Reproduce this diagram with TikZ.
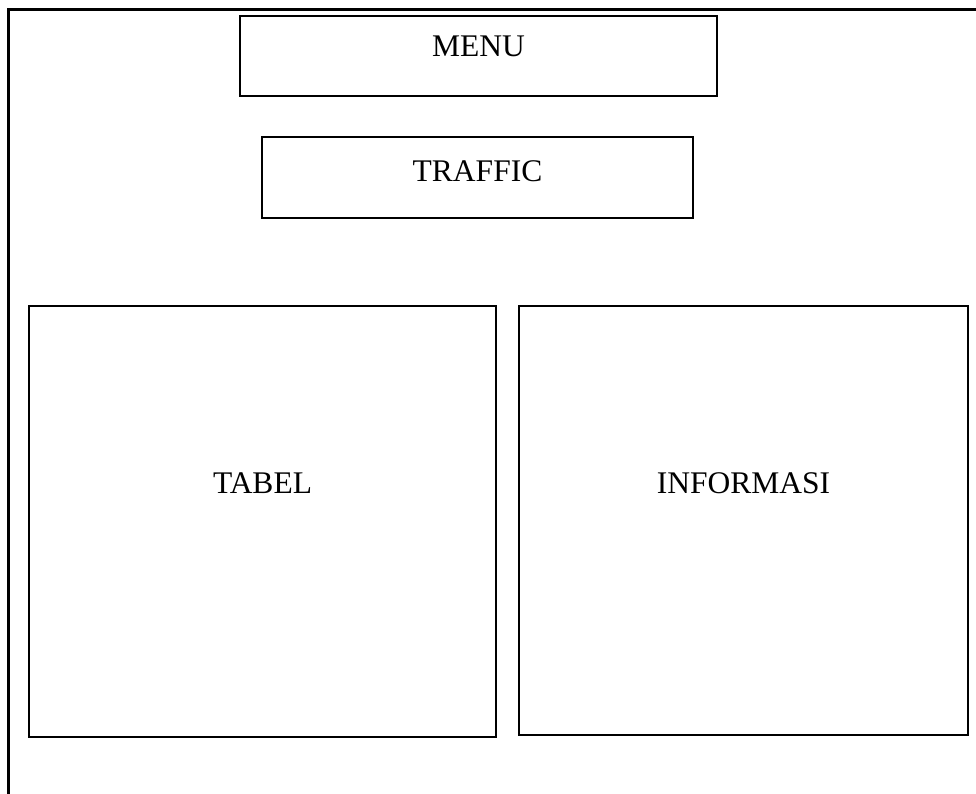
\documentclass[tikz,border=0pt]{standalone}
\usepackage{fontspec}
\setmainfont{Liberation Serif}
\begin{document}
\begin{tikzpicture}[x=1pt,y=-1pt,
  frame/.style={line width=3pt},
  box/.style={draw,line width=2.8pt,inner sep=0pt},
  lbl/.style={font=\fontsize{31.5}{38}\selectfont,inner sep=0pt,anchor=base}]
\useasboundingbox (0,0) rectangle (976,794);
\fill[white] (0,0) rectangle (976,794);
% outer frame (cropped at right and bottom)
\coordinate (ftr) at (976,10);
\coordinate (ftl) at (8,10);
\coordinate (fbl) at (8,794);
\draw[frame] (ftr) -- (ftl) -- (fbl);
% boxes
\node[box,minimum width=477,minimum height=80] (menu) at (478.5,56) {};
\node[box,minimum width=431,minimum height=81] (traffic) at (477.5,177.5) {};
\node[box,minimum width=467,minimum height=431] (tabel) at (262.5,521.5) {};
\node[box,minimum width=449,minimum height=429] (info) at (743.5,520.5) {};
% labels
\node[lbl] (tmenu) at (478.5,57) {MENU};
\node[lbl] (ttraffic) at (477.5,182) {TRAFFIC};
\node[lbl] (ttabel) at (262.5,493) {TABEL};
\node[lbl] (tinfo) at (743.5,493) {INFORMASI};
\end{tikzpicture}
\end{document}
